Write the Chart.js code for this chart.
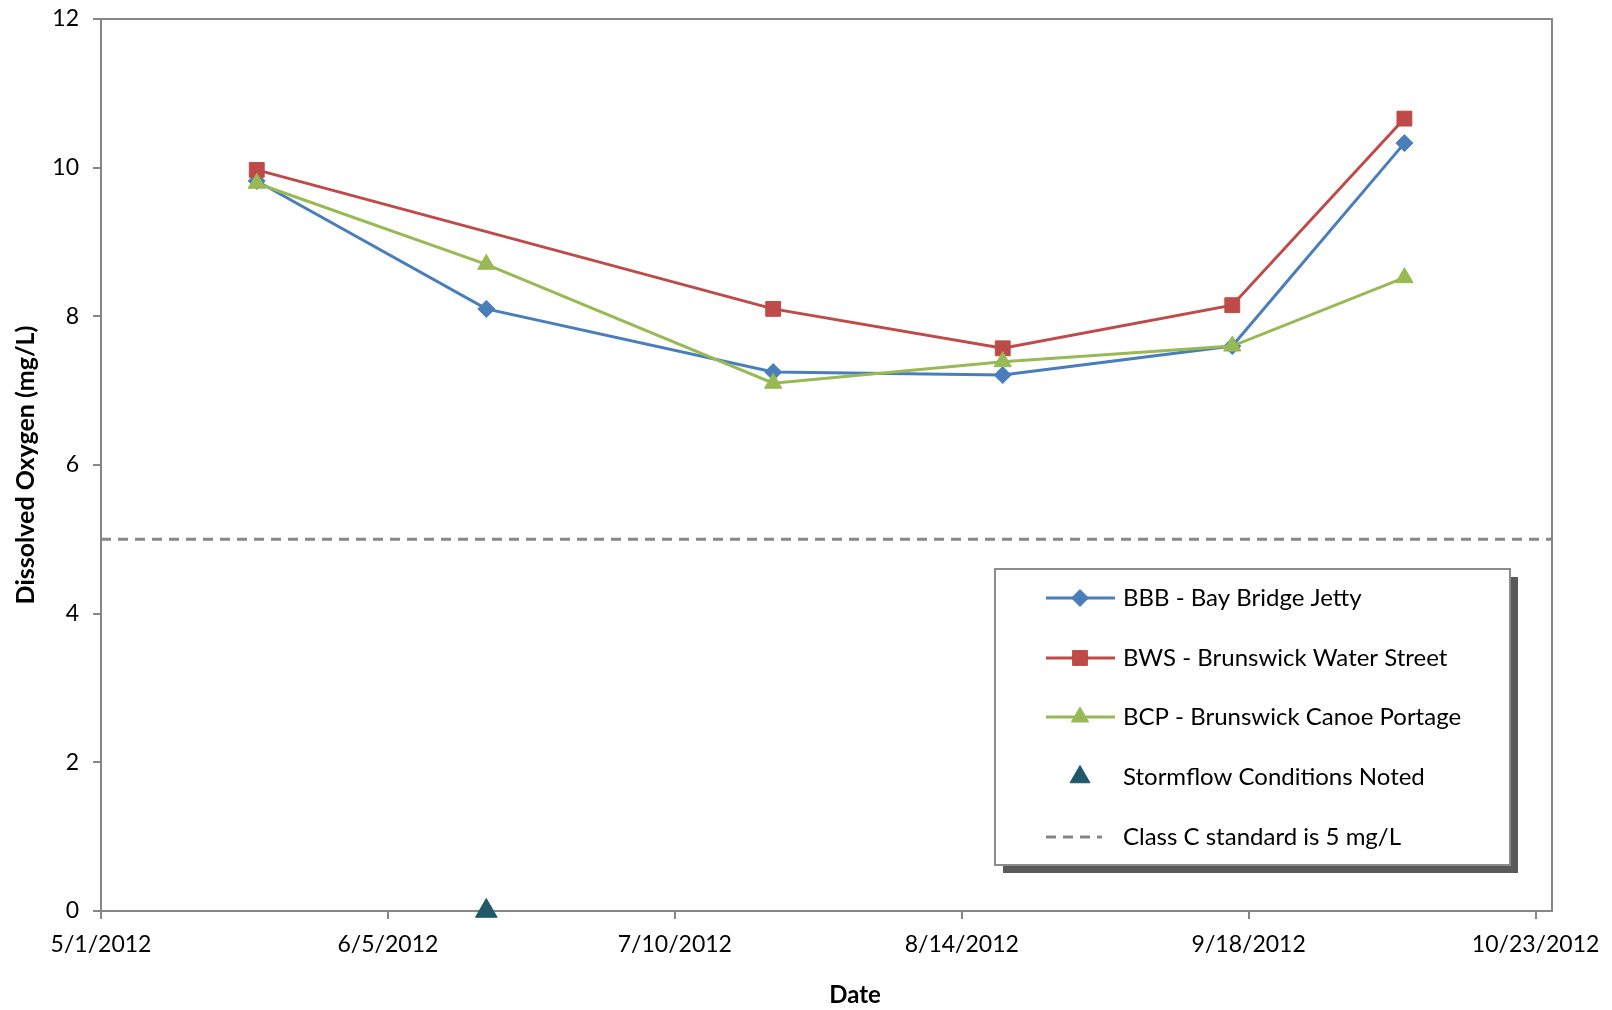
<!DOCTYPE html>
<html>
<head>
<meta charset="utf-8">
<title>Dissolved Oxygen 2012</title>
<script src="https://cdn.jsdelivr.net/npm/chart.js@4.4.0/dist/chart.umd.min.js"></script>
<style>
  html, body { margin: 0; padding: 0; background: #fff; }
</style>
</head>
<body>
<canvas id="chartCanvas" width="1612" height="1010"></canvas>
<script>
// sampling dates and readings (mg/L)
const sampleDates = ['2012-05-20', '2012-06-17', '2012-07-22', '2012-08-19', '2012-09-16', '2012-10-07'];
const bbbValues = [9.82, 8.10, 7.25, 7.21, 7.60, 10.33];
const bwsValues = [9.97, null, 8.10, 7.57, 8.15, 10.66];
const bcpValues = [9.79, 8.70, 7.10, 7.39, 7.60, 8.52];
const stormDates = ['2012-06-17'];
const stormValues = [0];
const standardValue = 5;

const seriesLabels = [
  'BBB - Bay Bridge Jetty',
  'BWS - Brunswick Water Street',
  'BCP - Brunswick Canoe Portage',
  'Stormflow Conditions Noted',
  'Class C standard is 5 mg/L'
];

const axisStart = '2012-05-01';
const axisEnd = '2012-10-25';
const tickDates = ['2012-05-01', '2012-06-05', '2012-07-10', '2012-08-14', '2012-09-18', '2012-10-23'];
const yTicks = [0, 2, 4, 6, 8, 10, 12];

const FONT = 'Lato, "Open Sans", sans-serif';
const AXIS_GREY = '#868686';

function dayOf(iso) {
  return (Date.parse(iso) - Date.parse(axisStart)) / 86400000;
}
function labelOf(day) {
  const d = new Date(Date.parse(axisStart) + day * 86400000);
  return (d.getUTCMonth() + 1) + '/' + d.getUTCDate() + '/' + d.getUTCFullYear();
}
function toPoints(dates, values) {
  const pts = [];
  dates.forEach((d, i) => {
    if (values[i] !== null) pts.push({ x: dayOf(d), y: values[i] });
  });
  return pts;
}

const datasets = [
  {
    label: seriesLabels[0],
    data: toPoints(sampleDates, bbbValues),
    borderColor: '#4A7EBB', backgroundColor: '#4A7EBB',
    borderWidth: 3, pointStyle: 'rectRot', pointRadius: 8.5, pointBorderWidth: 1,
    showLine: true, order: 3
  },
  {
    label: seriesLabels[1],
    data: toPoints(sampleDates, bwsValues),
    borderColor: '#BE4B48', backgroundColor: '#BE4B48',
    borderWidth: 3, pointStyle: 'rect', pointRadius: 10.5, pointBorderWidth: 1,
    showLine: true, order: 2
  },
  {
    label: seriesLabels[2],
    data: toPoints(sampleDates, bcpValues),
    borderColor: '#98B954', backgroundColor: '#98B954',
    borderWidth: 3, pointStyle: 'triangle', pointRadius: 10, pointBorderWidth: 1,
    showLine: true, order: 1
  },
  {
    label: seriesLabels[3],
    data: toPoints(stormDates, stormValues),
    borderColor: '#215968', backgroundColor: '#215968',
    pointStyle: 'triangle', pointRadius: 12.5, pointBorderWidth: 1,
    showLine: false, clip: false, order: 0
  },
  {
    label: seriesLabels[4],
    data: [{ x: dayOf(axisStart), y: standardValue }, { x: dayOf(axisEnd), y: standardValue }],
    borderColor: '#878787', backgroundColor: '#878787',
    borderWidth: 3, borderDash: [10, 7], pointRadius: 0,
    showLine: true, order: 4
  }
];

// plot border, axis titles and the boxed legend
const decorPlugin = {
  id: 'decor',
  beforeDatasetsDraw(chart) {
    const { ctx, chartArea: a } = chart;
    ctx.save();
    ctx.strokeStyle = AXIS_GREY;
    ctx.lineWidth = 2;
    ctx.beginPath();
    ctx.moveTo(a.left, a.top);
    ctx.lineTo(a.right, a.top);
    ctx.lineTo(a.right, a.bottom);
    ctx.stroke();
    ctx.restore();
  },
  afterDraw(chart) {
    const ctx = chart.ctx;
    ctx.save();
    ctx.fillStyle = '#000';
    ctx.font = 'bold 24px ' + FONT;
    ctx.textAlign = 'center';
    ctx.textBaseline = 'middle';
    ctx.fillText('Date', 855, 995);
    ctx.font = 'bold 25px ' + FONT;
    ctx.translate(26, 465);
    ctx.rotate(-Math.PI / 2);
    ctx.fillText('Dissolved Oxygen (mg/L)', 0, 0);
    ctx.restore();

    // legend box
    const box = { x: 995, y: 569, w: 515, h: 296 };
    ctx.save();
    ctx.fillStyle = '#5a5a5a';
    ctx.fillRect(box.x + 8, box.y + 8, box.w, box.h);
    ctx.fillStyle = '#fff';
    ctx.fillRect(box.x, box.y, box.w, box.h);
    ctx.strokeStyle = '#8c8c8c';
    ctx.lineWidth = 2;
    ctx.strokeRect(box.x, box.y, box.w, box.h);

    const rowY = [598, 658, 717, 777, 837];
    chart.data.datasets.forEach((ds, i) => {
      const y = rowY[i];
      if (ds.showLine) {
        ctx.strokeStyle = ds.borderColor;
        ctx.lineWidth = 3;
        ctx.setLineDash(ds.borderDash || []);
        ctx.beginPath();
        ctx.moveTo(1046, y);
        ctx.lineTo(ds.borderDash ? 1102 : 1115, y);
        ctx.stroke();
        ctx.setLineDash([]);
      }
      if (ds.pointRadius > 0) {
        ctx.fillStyle = ds.backgroundColor;
        ctx.strokeStyle = ds.borderColor;
        ctx.lineWidth = 1;
        Chart.helpers.drawPoint(ctx, {
          pointStyle: ds.pointStyle,
          radius: i === 3 ? 11.5 : ds.pointRadius,
          rotation: 0,
          borderWidth: 1
        }, 1080, y);
      }
      ctx.fillStyle = '#000';
      ctx.font = '24px ' + FONT;
      ctx.textAlign = 'left';
      ctx.textBaseline = 'middle';
      ctx.fillText(ds.label, 1123, y);
    });
    ctx.restore();
  }
};

new Chart(document.getElementById('chartCanvas').getContext('2d'), {
  type: 'scatter',
  data: { datasets: datasets },
  options: {
    responsive: false,
    animation: false,
    devicePixelRatio: 1,
    layout: { padding: { top: 19, right: 59, left: 0, bottom: 0 } },
    plugins: {
      legend: { display: false },
      tooltip: { enabled: false }
    },
    scales: {
      x: {
        type: 'linear',
        min: dayOf(axisStart),
        max: dayOf(axisEnd),
        afterBuildTicks(scale) {
          scale.ticks = tickDates.map(d => ({ value: dayOf(d) }));
        },
        afterFit(scale) { scale.height = 99; },
        ticks: {
          callback: v => labelOf(v),
          color: '#000',
          font: { family: FONT, size: 23 },
          padding: 12,
          maxRotation: 0,
          autoSkip: false
        },
        grid: { drawOnChartArea: false, drawTicks: true, tickLength: 8, color: AXIS_GREY, lineWidth: 2 },
        border: { display: true, color: AXIS_GREY, width: 2 }
      },
      y: {
        min: 0,
        max: 12,
        afterBuildTicks(scale) {
          scale.ticks = yTicks.map(v => ({ value: v }));
        },
        afterFit(scale) {
          scale.width = 101;
          scale.paddingTop = 0;
          scale.paddingBottom = 0;
        },
        ticks: {
          color: '#000',
          font: { family: FONT, size: 23 },
          padding: 14
        },
        grid: { drawOnChartArea: false, drawTicks: true, tickLength: 8, color: AXIS_GREY, lineWidth: 2 },
        border: { display: true, color: AXIS_GREY, width: 2 }
      }
    }
  },
  plugins: [decorPlugin]
});
</script>
</body>
</html>
